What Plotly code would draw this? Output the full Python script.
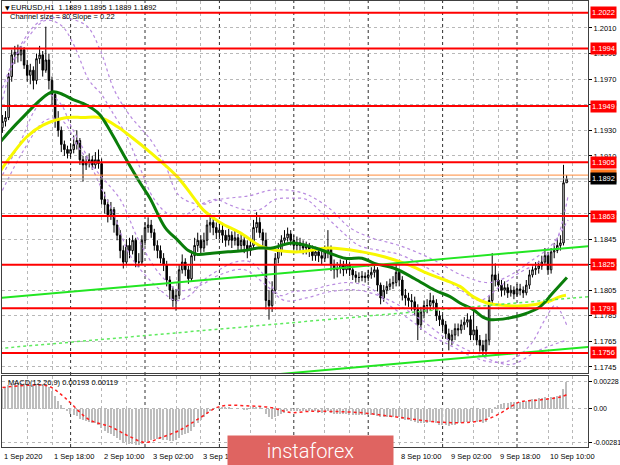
import plotly.graph_objects as go

# ---------------- data ----------------
first_open = 1.1932
close = [
    1.1937, 1.1940, 1.1972, 1.1989, 1.1991, 1.1989, 1.1993, 1.1981, 1.1973, 1.1977,
    1.1969, 1.1986, 1.1989, 1.1977, 1.1985, 1.1969, 1.1958, 1.1938, 1.1930, 1.1919,
    1.1915, 1.1912, 1.1915, 1.1919, 1.1922, 1.1907, 1.1903, 1.1905, 1.1907, 1.1903,
    1.1907, 1.1904, 1.1876, 1.1872, 1.1864, 1.1868, 1.1856, 1.1848, 1.1836, 1.1827,
    1.1840, 1.1836, 1.1844, 1.1827, 1.1827, 1.1844, 1.1854, 1.1856, 1.1850, 1.1840,
    1.1836, 1.1830, 1.1825, 1.1813, 1.1805, 1.1797, 1.1801, 1.1821, 1.1827, 1.1821,
    1.1814, 1.1832, 1.1840, 1.1844, 1.1838, 1.1844, 1.1856, 1.1858, 1.1854, 1.1850,
    1.1852, 1.1848, 1.1844, 1.1848, 1.1844, 1.1846, 1.1840, 1.1844, 1.1840, 1.1836,
    1.1840, 1.1854, 1.1858, 1.1850, 1.1844, 1.1797, 1.1793, 1.1805, 1.1830, 1.1836,
    1.1844, 1.1846, 1.1849, 1.1844, 1.1840, 1.1842, 1.1840, 1.1838, 1.1839, 1.1836,
    1.1832, 1.1835, 1.1832, 1.1830, 1.1835, 1.1838, 1.1825, 1.1821, 1.1822, 1.1825,
    1.1821, 1.1825, 1.1821, 1.1817, 1.1815, 1.1815, 1.1816, 1.1815, 1.1817, 1.1819,
    1.1821, 1.1809, 1.1799, 1.1805, 1.1808, 1.1810, 1.1811, 1.1819, 1.1813, 1.1801,
    1.1799, 1.1797, 1.1796, 1.1790, 1.1778, 1.1788, 1.1793, 1.1793, 1.1797, 1.1795,
    1.1785, 1.1782, 1.1778, 1.1771, 1.1766, 1.1770, 1.1775, 1.1774, 1.1778, 1.1780,
    1.1782, 1.1770, 1.1774, 1.1766, 1.1762, 1.1758, 1.1766, 1.1797, 1.1817, 1.1813,
    1.1809, 1.1805, 1.1807, 1.1803, 1.1805, 1.1802, 1.1806, 1.1805, 1.1803, 1.1809,
    1.1817, 1.1821, 1.1822, 1.1824, 1.1827, 1.1832, 1.1821, 1.1835, 1.1836, 1.1840,
    1.1842, 1.1889, 1.1892,
]
high = [
    1.1942, 1.1945, 1.1975, 1.1993, 1.1996, 1.1997, 1.1996, 1.1995, 1.1985, 1.1982,
    1.1980, 1.1990, 1.1996, 1.1992, 1.2011, 1.1990, 1.1972, 1.1960, 1.1945, 1.1933,
    1.1922, 1.1918, 1.1920, 1.1926, 1.1930, 1.1924, 1.1910, 1.1910, 1.1912, 1.1910,
    1.1913, 1.1915, 1.1908, 1.1882, 1.1876, 1.1874, 1.1870, 1.1860, 1.1852, 1.1840,
    1.1845, 1.1846, 1.1848, 1.1846, 1.1834, 1.1848, 1.1858, 1.1862, 1.1860, 1.1853,
    1.1844, 1.1840, 1.1834, 1.1828, 1.1816, 1.1808, 1.1806, 1.1825, 1.1833, 1.1830,
    1.1824, 1.1836, 1.1846, 1.1850, 1.1848, 1.1850, 1.1860, 1.1865, 1.1862, 1.1858,
    1.1857, 1.1856, 1.1852, 1.1853, 1.1851, 1.1852, 1.1849, 1.1849, 1.1847, 1.1844,
    1.1845, 1.1860, 1.1866, 1.1862, 1.1853, 1.1850, 1.1805, 1.1812, 1.1834, 1.1842,
    1.1848, 1.1852, 1.1854, 1.1852, 1.1848, 1.1847, 1.1846, 1.1844, 1.1843, 1.1842,
    1.1840, 1.1839, 1.1838, 1.1836, 1.1840, 1.1852, 1.1840, 1.1829, 1.1827, 1.1829,
    1.1828, 1.1829, 1.1827, 1.1824, 1.1820, 1.1819, 1.1820, 1.1819, 1.1821, 1.1823,
    1.1826, 1.1823, 1.1811, 1.1809, 1.1812, 1.1814, 1.1816, 1.1825, 1.1822, 1.1816,
    1.1806, 1.1803, 1.1802, 1.1800, 1.1794, 1.1792, 1.1797, 1.1798, 1.1803, 1.1801,
    1.1798, 1.1789, 1.1786, 1.1781, 1.1775, 1.1774, 1.1779, 1.1779, 1.1782, 1.1784,
    1.1787, 1.1785, 1.1789, 1.1777, 1.1770, 1.1766, 1.1771, 1.1801, 1.1834, 1.1826,
    1.1818, 1.1813, 1.1812, 1.1810, 1.1809, 1.1808, 1.1810, 1.1810, 1.1808, 1.1813,
    1.1821, 1.1825, 1.1827, 1.1828, 1.1832, 1.1838, 1.1835, 1.1838, 1.1842, 1.1846,
    1.1848, 1.1903, 1.1895,
]
low = [
    1.1928, 1.1933, 1.1938, 1.1968, 1.1982, 1.1983, 1.1984, 1.1978, 1.1968, 1.1966,
    1.1962, 1.1966, 1.1982, 1.1972, 1.1975, 1.1962, 1.1950, 1.1932, 1.1925, 1.1913,
    1.1910, 1.1908, 1.1909, 1.1912, 1.1915, 1.1903, 1.1890, 1.1899, 1.1901, 1.1899,
    1.1900, 1.1900, 1.1872, 1.1865, 1.1858, 1.1860, 1.1850, 1.1844, 1.1830, 1.1822,
    1.1825, 1.1830, 1.1833, 1.1823, 1.1823, 1.1825, 1.1840, 1.1850, 1.1846, 1.1836,
    1.1830, 1.1826, 1.1820, 1.1808, 1.1798, 1.1792, 1.1789, 1.1798, 1.1818, 1.1816,
    1.1810, 1.1812, 1.1828, 1.1835, 1.1833, 1.1835, 1.1840, 1.1850, 1.1848, 1.1845,
    1.1845, 1.1842, 1.1839, 1.1840, 1.1838, 1.1840, 1.1835, 1.1836, 1.1834, 1.1830,
    1.1832, 1.1837, 1.1850, 1.1846, 1.1838, 1.1790, 1.1782, 1.1788, 1.1802, 1.1826,
    1.1832, 1.1840, 1.1843, 1.1840, 1.1836, 1.1836, 1.1835, 1.1833, 1.1833, 1.1831,
    1.1828, 1.1828, 1.1827, 1.1825, 1.1827, 1.1830, 1.1820, 1.1814, 1.1815, 1.1818,
    1.1816, 1.1818, 1.1816, 1.1813, 1.1811, 1.1811, 1.1812, 1.1811, 1.1812, 1.1814,
    1.1815, 1.1804, 1.1794, 1.1796, 1.1802, 1.1805, 1.1806, 1.1808, 1.1808, 1.1797,
    1.1793, 1.1792, 1.1789, 1.1785, 1.1766, 1.1774, 1.1783, 1.1787, 1.1789, 1.1790,
    1.1781, 1.1777, 1.1773, 1.1767, 1.1758, 1.1762, 1.1766, 1.1769, 1.1771, 1.1774,
    1.1776, 1.1766, 1.1766, 1.1762, 1.1757, 1.1753, 1.1754, 1.1762, 1.1795, 1.1808,
    1.1804, 1.1800, 1.1801, 1.1799, 1.1800, 1.1798, 1.1800, 1.1801, 1.1799, 1.1801,
    1.1806, 1.1815, 1.1817, 1.1818, 1.1821, 1.1825, 1.1817, 1.1818, 1.1830, 1.1834,
    1.1836, 1.1840, 1.1889,
]
trading_days = ["1 Sep", "2 Sep", "3 Sep", "4 Sep", "7 Sep", "8 Sep", "9 Sep", "10 Sep"]
first_hour = 2
year = "2020"
symbol = "EURUSD,H1"

levels = [1.2022, 1.1994, 1.1949, 1.1905, 1.1863, 1.1825, 1.1791, 1.1756]
ask_price = 1.1895
bid_price = 1.1892
price_ticks = [1.2010, 1.1990, 1.1970, 1.1950, 1.1930, 1.1910, 1.1890, 1.1865,
               1.1845, 1.1825, 1.1805, 1.1785, 1.1765, 1.1745]

ma_green_i = [-1, 5.7, 16, 19.5, 22.8, 26, 29, 31.5, 33.7, 37, 40, 44.4, 47.6, 52.5, 56.6, 60,
              63, 67.6, 72.8, 78, 82.5, 87, 93.4, 101, 110.5, 116, 120, 126.6, 133, 139.5,
              144.4, 147.6, 151.8, 155, 157.3, 162.8, 168, 173.4, 177.6, 182.1]
ma_green_p = [1.1920, 1.1938, 1.1960, 1.1958, 1.1954, 1.1951, 1.1947, 1.1942, 1.1934, 1.1920,
              1.1907, 1.1889, 1.1877, 1.1854, 1.1844, 1.1836, 1.1833, 1.1834, 1.1835, 1.1836,
              1.1838, 1.1838, 1.1842, 1.1838, 1.1830, 1.1830, 1.1826, 1.1822, 1.1814, 1.1805,
              1.1800, 1.1795, 1.1790, 1.1784, 1.1782, 1.1783, 1.1786, 1.1792, 1.1803, 1.1815]
ma_yellow_i = [-1, 2.5, 7.9, 13.1, 20.8, 26, 31.5, 37, 42, 47.6, 56.3, 61.5, 64.7, 70.2, 76.6,
               83.7, 88.9, 96, 105, 116, 123.4, 130.8, 137.3, 142.8, 147.6, 151.8, 156.3,
               162.8, 169.2, 175.7, 179.9, 181.8]
ma_yellow_p = [1.1897, 1.1909, 1.1925, 1.1934, 1.1940, 1.1940, 1.1940, 1.1933, 1.1924, 1.1913,
               1.1894, 1.1878, 1.1868, 1.1858, 1.1850, 1.1839, 1.1836, 1.1835, 1.1838, 1.1835,
               1.1831, 1.1825, 1.1818, 1.1813, 1.1808, 1.1800, 1.1795, 1.1793, 1.1793, 1.1796,
               1.1800, 1.1801]

band_up_a_i = [0, 4, 9, 14, 19, 23, 28, 32, 35, 40, 44, 49, 54, 59, 64, 69, 73, 78, 83, 88, 93,
               98, 102, 109, 115, 122, 128, 135, 141, 148, 154, 161, 167, 173, 178, 182.5]
band_up_a_p = [1.1954, 1.1985, 1.2005, 1.2016, 1.2012, 1.1997, 1.1969, 1.1958, 1.1946, 1.1926,
               1.1903, 1.1876, 1.1864, 1.1864, 1.1872, 1.1876, 1.1872, 1.1868, 1.1868, 1.1876,
               1.1877, 1.1876, 1.1868, 1.1852, 1.1840, 1.1836, 1.1833, 1.1825, 1.1817, 1.1805,
               1.1797, 1.1809, 1.1819, 1.1827, 1.1840, 1.1879]
band_lo_a_i = [0, 6, 10.5, 15, 19, 22, 27, 31.5, 36, 41, 46, 51, 56, 60.5, 65, 70, 75, 80, 85,
               89.5, 94, 99, 105.7, 112, 118.6, 125, 131.5, 138, 144.4, 150.8, 157.3, 163.7,
               170.2, 175, 178.3, 182]
band_lo_a_p = [1.1895, 1.1922, 1.1946, 1.1958, 1.1950, 1.1934, 1.1911, 1.1887, 1.1864, 1.1833,
               1.1817, 1.1805, 1.1797, 1.1801, 1.1813, 1.1821, 1.1827, 1.1827, 1.1815, 1.1801,
               1.1804, 1.1805, 1.1809, 1.1811, 1.1807, 1.1793, 1.1782, 1.1770, 1.1762, 1.1754,
               1.1749, 1.1750, 1.1762, 1.1782, 1.1793, 1.1778]
band_up_b_i = [0, 6, 12, 19, 27, 31.5, 36, 41, 48, 52.5, 57, 64, 70, 80, 86, 93, 99, 106, 112,
               119, 128, 138, 148, 157, 164, 170, 177, 182.5]
band_up_b_p = [1.1963, 1.1997, 1.2015, 1.2018, 1.2012, 1.1993, 1.1962, 1.1942, 1.1922, 1.1903,
               1.1879, 1.1872, 1.1876, 1.1879, 1.1883, 1.1883, 1.1879, 1.1868, 1.1854, 1.1846,
               1.1840, 1.1830, 1.1817, 1.1811, 1.1817, 1.1827, 1.1840, 1.1860]
band_lo_b_i = [0, 7, 14, 19, 25, 31.5, 38, 44, 51, 57, 64, 70, 78, 85, 91, 98, 106, 115, 125,
               135, 144, 154, 164, 173, 182]
band_lo_b_p = [1.1883, 1.1915, 1.1938, 1.1938, 1.1915, 1.1895, 1.1876, 1.1844, 1.1817, 1.1805,
               1.1809, 1.1817, 1.1821, 1.1809, 1.1797, 1.1799, 1.1804, 1.1805, 1.1797, 1.1782,
               1.1766, 1.1754, 1.1747, 1.1758, 1.1766]

channel_i = [-1, 189]
channel_upper = [1.17989, 1.18394]
channel_mid = [1.17595, 1.18000]
channel_lower = [1.17202, 1.17607]
channel_size = 80
channel_slope = 0.22

macd_hist = [
    .0017, .0018, .0020, .0021, .0022, .0022, .0022, .0021, .0021, .0020,
    .0020, .0021, .0021, .0020, .0020, .0018, .0015, .0011, .0007, .0003,
    .0000, -.0002, -.0004, -.0005, -.0006, -.0008, -.0009, -.0010, -.0011, -.0012,
    -.0012, -.0013, -.0016, -.0018, -.0020, -.0021, -.0023, -.0024, -.0026, -.0028,
    -.0028, -.0029, -.0029, -.0030, -.0030, -.0029, -.0028, -.0027, -.0026, -.0025,
    -.0025, -.0025, -.0026, -.0026, -.0027, -.0027, -.0026, -.0024, -.0022, -.0021,
    -.0020, -.0018, -.0015, -.0012, -.0009, -.0007, -.0004, -.0002, -.0001, .0000,
    .0001, .0001, .0001, .0001, .0000, .0000, .0000, .0000, -.0001, -.0001,
    .0000, .0001, .0002, .0001, .0000, -.0004, -.0007, -.0008, -.0007, -.0006,
    -.0004, -.0003, -.0002, -.0002, -.0002, -.0002, -.0002, -.0002, -.0002, -.0002,
    -.0002, -.0002, -.0003, -.0003, -.0003, -.0002, -.0003, -.0004, -.0004, -.0004,
    -.0004, -.0004, -.0005, -.0005, -.0005, -.0005, -.0005, -.0005, -.0005, -.0005,
    -.0005, -.0006, -.0007, -.0007, -.0007, -.0007, -.0007, -.0006, -.0007, -.0008,
    -.0009, -.0009, -.0010, -.0011, -.0012, -.0012, -.0012, -.0012, -.0011, -.0011,
    -.0012, -.0013, -.0013, -.0013, -.0014, -.0013, -.0013, -.0012, -.0012, -.0011,
    -.0011, -.0011, -.0011, -.0011, -.0011, -.0012, -.0011, -.0007, -.0003, .0001,
    .0003, .0004, .0005, .0005, .0006, .0006, .0006, .0006, .0006, .0007,
    .0007, .0008, .0008, .0009, .0009, .0010, .0009, .0010, .0010, .0011,
    .0012, .0017, .0023,
]
signal_i = [0, 10, 15, 19, 22, 28, 35, 41, 46, 51, 57, 64, 70, 80, 87, 93, 99, 115, 128, 141,
            151, 157, 161, 164, 167, 173, 180, 182]
signal_v = [0.0018, 0.0020, 0.0019, 0.0012, 0.0005, -0.0009, -0.0015, -0.0023, -0.0028, -0.0024,
            -0.0018, -0.0007, 0.0002, 0.00025, 0.0001, -0.0003, -0.0002, -0.0003, -0.0007, -0.0011,
            -0.0011, -0.0008, -0.0003, 0.0002, 0.0006, 0.00075, 0.0010, 0.0012]
macd_label = "MACD(12,26,9) 0.00193 0.00119"
macd_ticks = [0.00228, 0.0, -0.00281]
macd_tick_text = ["0.00228", "0.00", "-0.00281"]

# ---------------- derived ----------------
n = len(close)
idx = list(range(n))
opens = [first_open] + close[:-1]

bar_day, bar_hour = [], []
d, h = 0, first_hour
for _ in range(n):
    bar_day.append(trading_days[d])
    bar_hour.append(h)
    h += 1
    if h == 24:
        h, d = 0, d + 1
day_starts = [i for i in idx if bar_hour[i] == 0]
label_idx = idx[::16]
label_txt = [f"{bar_day[i]} {year}" if i == 0 else f"{bar_day[i]} {bar_hour[i]:02d}:00" for i in label_idx]
grid_idx = [i for i in range(0, 189, 8) if all(abs(i - s) > 3 for s in day_starts)]

# ---------------- layout geometry ----------------
W, H = 620, 465
ML, MR, MT, MB = 2, 32, 1, 18
PH = H - MT - MB
def py(px):
    return (H - MB - px) / PH
def pxx(px):
    return (px - ML) / (W - ML - MR)

FONT = "Liberation Sans, Arial, DejaVu Sans, sans-serif"
GRID = "#b8b8b8"
BAND = "#b98be0"

fig = go.Figure()
fig.add_trace(go.Candlestick(
    x=idx, open=opens, high=high, low=low, close=close, xaxis="x", yaxis="y",
    increasing=dict(line=dict(color="#000000", width=1), fillcolor="#ffffff"),
    decreasing=dict(line=dict(color="#000000", width=1), fillcolor="#000000"),
    whiskerwidth=0, hoverinfo="skip"))

for bi, bp in [(band_up_a_i, band_up_a_p), (band_lo_a_i, band_lo_a_p),
               (band_up_b_i, band_up_b_p), (band_lo_b_i, band_lo_b_p)]:
    fig.add_trace(go.Scatter(x=bi, y=bp, mode="lines", hoverinfo="skip",
                             line=dict(color=BAND, width=1.2, dash="dot", shape="spline")))

fig.add_trace(go.Scatter(x=ma_yellow_i, y=ma_yellow_p, mode="lines", hoverinfo="skip",
                         line=dict(color="#f8f800", width=3, shape="spline")))
fig.add_trace(go.Scatter(x=ma_green_i, y=ma_green_p, mode="lines", hoverinfo="skip",
                         line=dict(color="#0a7d0a", width=3, shape="spline")))
fig.add_trace(go.Scatter(x=channel_i, y=channel_mid, mode="lines", hoverinfo="skip",
                         line=dict(color="#5eea5e", width=1.5, dash="dot")))
for cp in (channel_upper, channel_lower):
    fig.add_trace(go.Scatter(x=channel_i, y=cp, mode="lines", hoverinfo="skip",
                             line=dict(color="#22e622", width=2)))

fig.add_trace(go.Bar(x=idx, y=macd_hist, xaxis="x2", yaxis="y2", width=0.45,
                     marker=dict(color="#bdbdbd", line=dict(width=0)), hoverinfo="skip"))
fig.add_trace(go.Scatter(x=signal_i, y=signal_v, xaxis="x2", yaxis="y2", mode="lines",
                         hoverinfo="skip",
                         line=dict(color="#ff2020", width=1.5, dash="dot", shape="spline")))

shapes = []
for s in day_starts:
    shapes.append(dict(type="line", xref="x", x0=s, x1=s, yref="paper", y0=0, y1=1,
                       line=dict(color="#303030", width=1, dash="dot"), layer="below"))
shapes.append(dict(type="line", xref="x domain", x0=0, x1=1, yref="y", y0=bid_price, y1=bid_price,
                   line=dict(color="#a8a8a8", width=1), layer="above"))
shapes.append(dict(type="line", xref="x domain", x0=0, x1=1, yref="y", y0=ask_price, y1=ask_price,
                   line=dict(color="#ff8a3a", width=1), layer="above"))
for lv in levels:
    shapes.append(dict(type="line", xref="x domain", x0=0, x1=1, yref="y", y0=lv, y1=lv,
                       line=dict(color="#ff0000", width=2), layer="above"))

ann = []
ann.append(dict(x=pxx(3), y=py(7), xref="paper", yref="paper", xanchor="left", yanchor="middle",
                showarrow=False, text="\u25bc", font=dict(family="DejaVu Sans", size=6, color="#000")))
ann.append(dict(x=pxx(9), y=py(7), xref="paper", yref="paper", xanchor="left", yanchor="middle",
                showarrow=False,
                text=f"{symbol}  {opens[-1]:.4f} {high[-1]:.4f} {low[-1]:.4f} {close[-1]:.4f}",
                font=dict(family=FONT, size=7.5, color="#000")))
ann.append(dict(x=pxx(8), y=py(17), xref="paper", yref="paper", xanchor="left", yanchor="middle",
                showarrow=False, text=f"Channel size = {channel_size} Slope = {channel_slope}",
                font=dict(family=FONT, size=7.5, color="#000")))
ann.append(dict(x=pxx(6), y=py(382), xref="paper", yref="paper", xanchor="left", yanchor="middle",
                showarrow=False, text=macd_label, font=dict(family=FONT, size=7.5, color="#000")))
for lv in levels:
    ann.append(dict(x=1, y=lv, xref="paper", yref="y", xanchor="left", yanchor="middle", xshift=2,
                    showarrow=False, text=f"{lv:.4f}", bgcolor="#ff0000", borderpad=1,
                    font=dict(family=FONT, size=7.5, color="#ffffff")))
ann.append(dict(x=1, y=ask_price, xref="paper", yref="y", xanchor="left", yanchor="middle", xshift=2,
                showarrow=False, text=f"{ask_price:.4f}", bgcolor="#ff7a20", borderpad=1,
                font=dict(family=FONT, size=7.5, color="#ffffff")))
ann.append(dict(x=1, y=bid_price, xref="paper", yref="y", xanchor="left", yanchor="middle", xshift=2,
                showarrow=False, text=f"{bid_price:.4f}", bgcolor="#000000", borderpad=1,
                font=dict(family=FONT, size=7.5, color="#ffffff")))
for i, t in zip(label_idx, label_txt):
    ann.append(dict(x=i, y=0, xref="x2", yref="paper", xanchor="left", yanchor="top", xshift=0,
                    yshift=-3, showarrow=False, text=t, font=dict(family=FONT, size=7.5, color="#000")))
ann.append(dict(x=pxx(310.5), y=py(451), xref="paper", yref="paper", xanchor="center",
                yanchor="middle", showarrow=False, text="instaforex", width=165, height=30,
                bgcolor="#df6461", borderpad=0,
                font=dict(family="Roboto, Open Sans, sans-serif", size=20, color="#ffffff", weight=300)))

xcommon = dict(range=[-0.13, 188.9], tickvals=grid_idx, showticklabels=False, showgrid=True,
               gridcolor=GRID, griddash="3px,3px", gridwidth=1, zeroline=False, showline=True,
               linecolor="#404040", linewidth=1, mirror=True, ticks="", fixedrange=True)
ycommon = dict(side="right", showgrid=True, gridcolor=GRID, griddash="3px,3px", gridwidth=1,
               zeroline=False, showline=True, linecolor="#404040", linewidth=1, mirror=True,
               ticks="outside", ticklen=3, tickcolor="#000", fixedrange=True, automargin=False)

fig.update_layout(
    width=W, height=H, margin=dict(l=ML, r=MR, t=MT, b=MB),
    paper_bgcolor="#ffffff", plot_bgcolor="#ffffff", showlegend=False,
    xaxis=dict(domain=[0, 1], anchor="y", rangeslider=dict(visible=False), **xcommon),
    xaxis2=dict(domain=[0, 1], anchor="y2", matches="x", **xcommon),
    yaxis=dict(domain=[py(373), 1], range=[1.17403, 1.20311], tickvals=price_ticks,
               ticktext=[f"{v:.4f}" for v in price_ticks],
               tickfont=dict(family=FONT, size=7.5, color="#000"), **ycommon),
    yaxis2=dict(domain=[0, py(376)], range=[-0.00318, 0.00276], tickvals=macd_ticks,
                ticktext=macd_tick_text, ticklabelstandoff=0,
                tickfont=dict(family=FONT, size=7, color="#000"), **ycommon),
    shapes=shapes, annotations=ann, bargap=0,
)

fig.write_html("out.html", config={"displayModeBar": False},
               post_script="document.body.style.margin='0px';document.body.style.overflow='hidden';")
